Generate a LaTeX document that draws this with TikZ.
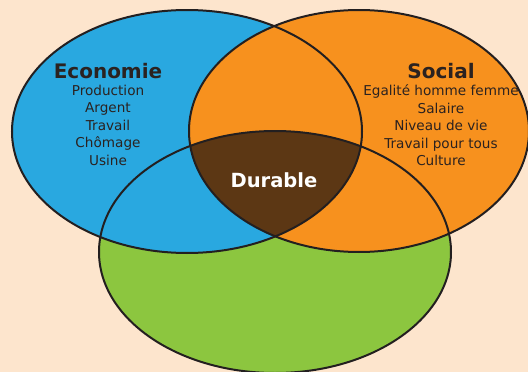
\documentclass[tikz,border=0pt]{standalone}
\usepackage{fontspec}
\setmainfont{DejaVu Sans}
\begin{document}
\begin{tikzpicture}[x=1pt,y=-1pt,
  ring/.style={draw=linec,line width=2pt},
  title/.style={font=\fontsize{20}{21}\selectfont\bfseries,text=textc,inner sep=0pt,anchor=base},
  items/.style={font=\fontsize{13.6}{17.5}\selectfont,text=textc,align=center,inner sep=0pt,anchor=north},
  core/.style={font=\fontsize{19.5}{21}\selectfont\bfseries,text=white,inner sep=0pt,anchor=base}]
\definecolor{bg}{HTML}{FDE5CD}
\definecolor{bluec}{HTML}{29A8E0}
\definecolor{orangec}{HTML}{F7911E}
\definecolor{greenc}{HTML}{8CC63F}
\definecolor{brownc}{HTML}{5C3714}
\definecolor{linec}{HTML}{231F20}
\definecolor{textc}{HTML}{2B2220}
% page
\fill[bg] (0,0) rectangle (528,372);
\useasboundingbox (0,0) rectangle (528,372);
% fills, bottom to top
\fill[greenc] (275,252) ellipse [x radius=176,y radius=121];
\fill[bluec] (187,131.5) ellipse [x radius=175,y radius=121.5];
\fill[orangec] (359,131) ellipse [x radius=170,y radius=121];
% common part of the three sets
\begin{scope}
  \clip (275,252) ellipse [x radius=176,y radius=121];
  \clip (187,131.5) ellipse [x radius=175,y radius=121.5];
  \fill[brownc] (359,131) ellipse [x radius=170,y radius=121];
\end{scope}
% outlines
\draw[ring] (275,252) ellipse [x radius=176,y radius=121];
\draw[ring] (187,131.5) ellipse [x radius=175,y radius=121.5];
\draw[ring] (359,131) ellipse [x radius=170,y radius=121];
% labels
\node[title] (eco) at (108,78) {Economie};
\node[items] (ecoitems) at (108,84.5) {Production\\Argent\\Travail\\Chômage\\Usine};
\node[title] (soc) at (441,78) {Social};
\node[items] (socitems) at (441,84.5) {Egalité homme femme\\Salaire\\Niveau de vie\\Travail pour tous\\Culture};
\node[core] (dur) at (274,187) {Durable};
\end{tikzpicture}
\end{document}
